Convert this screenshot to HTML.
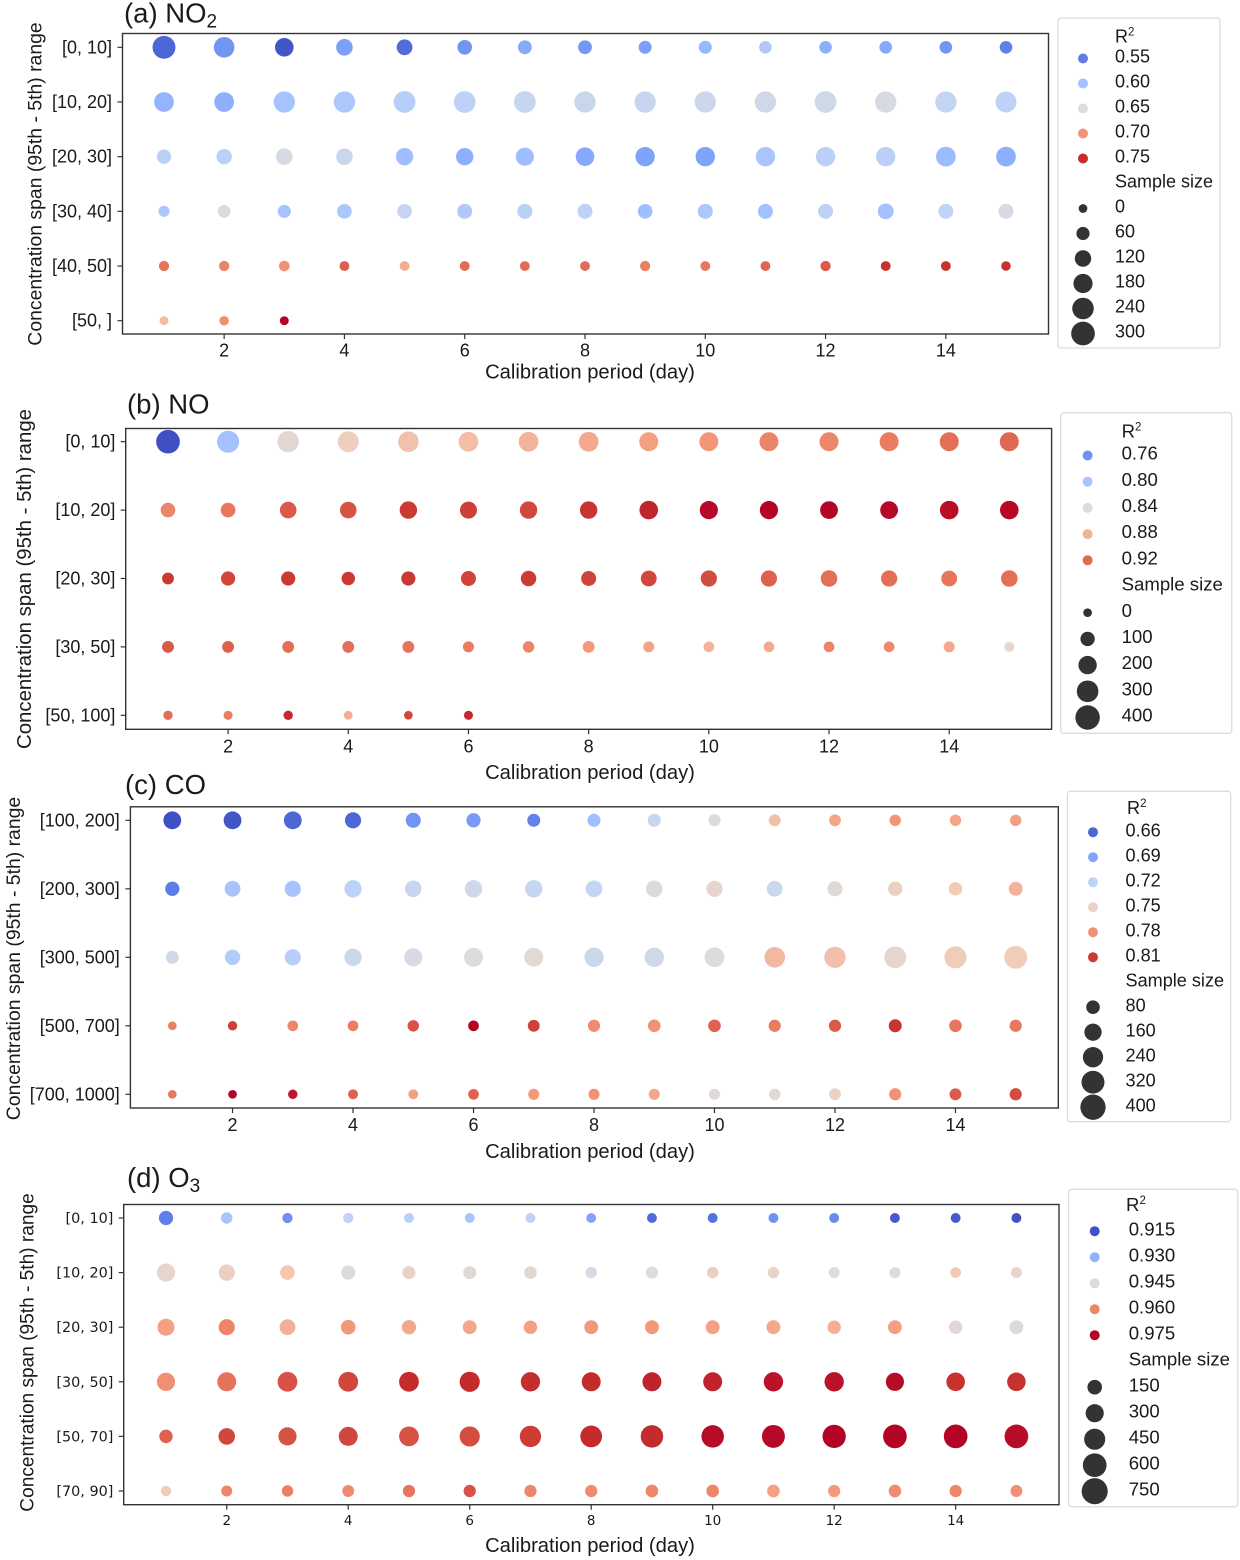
<!DOCTYPE html>
<html lang="en">
<head>
<meta charset="utf-8">
<title>Calibration period and concentration span bubble charts</title>
<style>
html,body{margin:0;padding:0;background:#fff;}
svg{display:block;font-family:"Liberation Sans",Arial,sans-serif;fill:#1a1a1a;}
.frame{fill:none;stroke:#333;stroke-width:1.4;}
.legend-frame{fill:#fff;stroke:#dcdcdc;stroke-width:1.3;}
.title{font-size:27.5px;}
.sub{font-size:19px;}
.axis-title{font-size:20.2px;text-anchor:middle;}
.ytitle{font-size:19.4px;text-anchor:middle;}
.legend-text{font-size:18px;}
#panel-b .legend-text,#panel-d .legend-text{font-size:18.6px;}
#panel-c .legend-text{font-size:18.1px;}
.sup{font-size:11.5px;}
.xtick{font-size:18px;text-anchor:middle;}
.ytick{font-size:18px;text-anchor:end;}
.dv{font-family:"DejaVu Sans",sans-serif;}
</style>
</head>
<body>
<svg id="chart" xmlns="http://www.w3.org/2000/svg" width="1240" height="1560" viewBox="0 0 1240 1560">
  <rect x="0" y="0" width="1240" height="1560" fill="#ffffff"/>

  <g id="panel-a">
    <text class="title" x="124" y="22.5">(a) NO<tspan class="sub" dy="5">2</tspan></text>
    <rect class="legend-frame" x="1058" y="18" width="162" height="330" rx="3"/>
    <text class="legend-text" x="1115" y="42.5">R<tspan class="sup" dy="-7">2</tspan></text>
    <text class="legend-text" x="1115" y="187.6">Sample size</text>
    <text class="axis-title" x="590" y="378.5">Calibration period (day)</text>
    <text class="ytitle" transform="translate(41.5 184) rotate(-90)">Concentration span (95th - 5th) range</text>
  </g>

  <g id="panel-b">
    <text class="title" x="127" y="413.5">(b) NO</text>
    <rect class="legend-frame" x="1060.7" y="412.7" width="171" height="320.6" rx="3"/>
    <text class="legend-text" x="1121.6" y="437.5">R<tspan class="sup" dy="-7">2</tspan></text>
    <text class="legend-text" x="1121.6" y="590.4">Sample size</text>
    <text class="axis-title" x="590" y="779">Calibration period (day)</text>
    <text class="ytitle" style="font-size:20.4px" transform="translate(30.8 579) rotate(-90)">Concentration span (95th - 5th) range</text>
  </g>

  <g id="panel-c">
    <text class="title" x="125" y="794">(c) CO</text>
    <rect class="legend-frame" x="1067.4" y="791.3" width="163.3" height="330.4" rx="3"/>
    <text class="legend-text" x="1127" y="814">R<tspan class="sup" dy="-7">2</tspan></text>
    <text class="legend-text" x="1125.5" y="986.4">Sample size</text>
    <text class="axis-title" x="590" y="1158">Calibration period (day)</text>
    <text class="ytitle" transform="translate(19.8 958.5) rotate(-90)">Concentration span (95th - 5th) range</text>
  </g>

  <g id="panel-d">
    <text class="title" x="127" y="1187">(d) O<tspan class="sub" dy="5">3</tspan></text>
    <rect class="legend-frame" x="1068.6" y="1189.3" width="169.2" height="317.4" rx="3"/>
    <text class="legend-text" x="1126" y="1211">R<tspan class="sup" dy="-7">2</tspan></text>
    <text class="legend-text" x="1128.7" y="1365.4">Sample size</text>
    <text class="axis-title" x="590" y="1552">Calibration period (day)</text>
    <text class="ytitle" style="font-size:19.1px" transform="translate(33.6 1352.5) rotate(-90)">Concentration span (95th - 5th) range</text>
  </g>
</svg>

<script>
// ---------- shared data ----------
const dayTicks = [2, 4, 6, 8, 10, 12, 14];

// ---------- (a) NO2 ----------
const no2Spans = ['[0, 10]', '[10, 20]', '[20, 30]', '[30, 40]', '[40, 50]', '[50, ]'];
const no2R2 = [
  [.5375,.565,.5275,.5725,.54,.565,.58,.5675,.5725,.5925,.61,.585,.58,.565,.5525],
  [.59,.585,.6025,.6075,.615,.62,.6275,.63,.6275,.6325,.635,.635,.64,.625,.62],
  [.6175,.6175,.64,.63,.5975,.585,.5975,.58,.575,.575,.605,.6175,.6175,.595,.585],
  [.6075,.6425,.6025,.6075,.625,.61,.6175,.62,.5975,.6075,.6,.62,.6,.6225,.64],
  [.7225,.7125,.7025,.73,.6875,.725,.725,.725,.715,.72,.7275,.7325,.7475,.7475,.7475],
  [.68,.705,.775]
];
const no2Samples = [
  [278,214,166,123,107,85,71,71,58,58,52,52,52,52,52],
  [194,194,234,234,245,245,245,234,234,234,234,245,234,234,224],
  [78,100,123,123,140,140,157,166,185,185,185,185,185,194,194],
  [29,52,58,85,85,92,92,92,85,92,92,92,107,92,92],
  [18,18,23,13,13,13,13,13,18,13,13,18,13,13,9],
  [2,9,2]
];
const no2LegendR2 = [0.55, 0.60, 0.65, 0.70, 0.75];
const no2LegendR2Labels = ['0.55', '0.60', '0.65', '0.70', '0.75'];
const no2LegendSamples = [0, 60, 120, 180, 240, 300];

// ---------- (b) NO ----------
const noSpans = ['[0, 10]', '[10, 20]', '[20, 30]', '[30, 50]', '[50, 100]'];
const noR2 = [
  [.7225,.798,.85,.862,.872,.874,.879,.884,.889,.894,.906,.904,.911,.918,.921],
  [.906,.914,.926,.928,.938,.936,.933,.94,.948,.963,.965,.965,.963,.96,.963],
  [.938,.933,.938,.938,.938,.934,.937,.934,.933,.931,.923,.918,.918,.916,.918],
  [.926,.923,.918,.918,.916,.911,.904,.8915,.887,.879,.884,.906,.9025,.884,.852],
  [.918,.909,.945,.882,.933,.945]
];
const noSamples = [
  [372,317,290,278,265,241,241,241,218,218,218,218,218,218,218],
  [106,106,153,153,174,163,174,174,206,195,195,184,184,206,206],
  [50,97,97,81,97,115,124,115,134,143,143,153,143,134,153],
  [50,50,50,50,50,36,43,50,36,30,30,30,30,36,17],
  [11,6,11,1,1,6]
];
const noLegendR2 = [0.76, 0.80, 0.84, 0.88, 0.92];
const noLegendR2Labels = ['0.76', '0.80', '0.84', '0.88', '0.92'];
const noLegendSamples = [0, 100, 200, 300, 400];

// ---------- (c) CO ----------
const coSpans = ['[100, 200]', '[200, 300]', '[300, 500]', '[500, 700]', '[700, 1000]'];
const coR2 = [
  [.652,.654,.661,.661,.681,.684,.673,.704,.726,.74,.762,.772,.778,.772,.774],
  [.67,.708,.708,.72,.726,.731,.726,.724,.738,.747,.729,.742,.753,.758,.767],
  [.733,.715,.717,.729,.736,.74,.744,.729,.731,.74,.765,.762,.747,.756,.756],
  [.789,.808,.785,.79,.803,.83,.808,.783,.78,.799,.79,.801,.812,.794,.792],
  [.792,.83,.823,.799,.774,.799,.776,.78,.771,.742,.744,.751,.78,.801,.805]
];
const coSamples = [
  [173,173,173,135,109,93,70,70,70,56,50,50,43,43,43],
  [93,126,135,163,144,163,163,144,144,135,126,109,93,78,85],
  [70,118,135,163,183,203,203,214,214,225,247,270,282,295,320],
  [4,14,31,31,43,31,50,56,63,63,56,56,70,63,56],
  [4,4,14,20,20,31,37,37,37,37,43,50,56,50,56]
];
const coLegendR2 = [0.66, 0.69, 0.72, 0.75, 0.78, 0.81];
const coLegendR2Labels = ['0.66', '0.69', '0.72', '0.75', '0.78', '0.81'];
const coLegendSamples = [80, 160, 240, 320, 400];

// ---------- (d) O3 ----------
const o3Spans = ['[0, 10]', '[10, 20]', '[20, 30]', '[30, 50]', '[50, 70]', '[70, 90]'];
const o3R2 = [
  [.921,.934,.924,.938,.937,.934,.938,.927,.918,.919,.924,.923,.916,.916,.915],
  [.947,.949,.951,.9445,.948,.946,.946,.943,.9445,.949,.9475,.9445,.9445,.951,.9475],
  [.956,.960,.954,.957,.955,.955,.956,.957,.957,.956,.955,.954,.956,.946,.944],
  [.9585,.963,.966,.967,.970,.970,.9695,.970,.971,.971,.973,.973,.974,.969,.969],
  [.9646,.967,.966,.967,.966,.9665,.968,.970,.970,.974,.9744,.975,.975,.975,.974],
  [.9506,.9598,.961,.959,.9628,.966,.9598,.959,.9598,.9598,.956,.9567,.959,.9598,.9585]
];
const o3Samples = [
  [138,47,14,14,4,4,4,2,4,4,4,4,4,4,4],
  [302,215,152,138,96,96,83,47,71,47,47,35,35,24,35],
  [249,215,199,152,138,124,110,124,124,124,124,110,124,110,124],
  [302,340,379,379,379,400,359,340,340,340,359,359,302,320,320],
  [110,231,302,340,379,400,462,484,529,529,552,575,599,599,599],
  [14,35,47,59,71,71,71,71,83,83,83,71,83,71,59]
];
const o3LegendR2 = [0.915, 0.930, 0.945, 0.960, 0.975];
const o3LegendR2Labels = ['0.915', '0.930', '0.945', '0.960', '0.975'];
const o3LegendSamples = [150, 300, 450, 600, 750];

// ---------- colormap (coolwarm) ----------
const COOLWARM = ['#3b4cc0','#5a78e4','#7b9ff9','#9ebeff','#c0d4f5','#dddcdc','#f2cbb7','#f49a7b','#e7745b','#c7332f','#b40426'];
function hexToRgb(h) {
  return [parseInt(h.slice(1, 3), 16), parseInt(h.slice(3, 5), 16), parseInt(h.slice(5, 7), 16)];
}
function coolwarm(t) {
  const c = Math.max(0, Math.min(1, t)) * (COOLWARM.length - 1);
  const i = Math.min(Math.floor(c), COOLWARM.length - 2);
  const f = c - i;
  const a = hexToRgb(COOLWARM[i]);
  const b = hexToRgb(COOLWARM[i + 1]);
  return 'rgb(' + a.map(function (v, k) { return Math.round(v + (b[k] - v) * f); }).join(',') + ')';
}

// ---------- panels: layout + scale configuration ----------
const panels = [
  { id: 'panel-a', key: 'no2', spans: no2Spans, r2: no2R2, samples: no2Samples,
    legendR2: no2LegendR2, legendR2Labels: no2LegendR2Labels, legendSamples: no2LegendSamples,
    box: [122.5, 33.5, 1048.5, 334], day1: 164, day15: 1006, rowFirst: 47.3, rowLast: 320.7,
    yTickEnd: 112, xTickY: 356.3, cMin: .522, cMax: .772, sizeBase: 76, sizeSlope: 1.62,
    legendX: 1083, legendTextX: 1115, legendY: 57, legendStep: 25, legendDot: 10 },
  { id: 'panel-b', key: 'no', spans: noSpans, r2: noR2, samples: noSamples,
    legendR2: noLegendR2, legendR2Labels: noLegendR2Labels, legendSamples: noLegendSamples,
    box: [125.7, 428.5, 1051.6, 729.3], day1: 168, day15: 1009.3, rowFirst: 441.7, rowLast: 715.3,
    yTickEnd: 115.4, xTickY: 752.3, cMin: .72, cMax: .965, sizeBase: 75, sizeSlope: 1.31,
    legendX: 1087.6, legendTextX: 1121.6, legendY: 454, legendStep: 26.2, legendDot: 10 },
  { id: 'panel-c', key: 'co', spans: coSpans, r2: coR2, samples: coSamples,
    legendR2: coLegendR2, legendR2Labels: coLegendR2Labels, legendSamples: coLegendSamples,
    box: [130.4, 806.8, 1058.3, 1108], day1: 172.3, day15: 1015.7, rowFirst: 820.3, rowLast: 1094.3,
    yTickEnd: 119.8, xTickY: 1130.8, cMin: .65, cMax: .83, sizeBase: 70, sizeSlope: 1.425,
    legendX: 1093, legendTextX: 1125.5, legendY: 830.7, legendStep: 25, legendDot: 10 },
  { id: 'panel-d', key: 'o3', spans: o3Spans, r2: o3R2, samples: o3Samples,
    legendR2: o3LegendR2, legendR2Labels: o3LegendR2Labels, legendSamples: o3LegendSamples,
    box: [123.7, 1204.5, 1059, 1504.7], day1: 166, day15: 1016.4, rowFirst: 1218, rowLast: 1491,
    yTickEnd: 113.4, xTickY: 1525, cMin: .914, cMax: .975, sizeBase: 95, sizeSlope: .78,
    legendX: 1094.7, legendTextX: 1128.7, legendY: 1229.7, legendStep: 26, legendDot: 10, dejavu: true }
];

const SVG_NS = 'http://www.w3.org/2000/svg';
function make(tag, attrs, parent, txt) {
  const el = document.createElementNS(SVG_NS, tag);
  Object.keys(attrs).forEach(function (k) { el.setAttribute(k, attrs[k]); });
  if (txt !== undefined) el.textContent = txt;
  parent.appendChild(el);
  return el;
}

panels.forEach(function (p) {
  const g = document.getElementById(p.id);
  const left = p.box[0], top = p.box[1], right = p.box[2], bottom = p.box[3];
  const xScale = function (day) { return p.day1 + (day - 1) * (p.day15 - p.day1) / 14; };
  const yScale = function (row) { return p.rowFirst + row * (p.rowLast - p.rowFirst) / (p.spans.length - 1); };
  const colorScale = function (v) { return coolwarm((v - p.cMin) / (p.cMax - p.cMin)); };
  const sizeScale = function (s) { return Math.sqrt(p.sizeBase + p.sizeSlope * s) / 2; };

  // marks
  p.r2.forEach(function (rowValues, row) {
    rowValues.forEach(function (v, i) {
      const dot = make('circle', { cx: xScale(i + 1), cy: yScale(row), r: sizeScale(p.samples[row][i]), fill: colorScale(v) }, g);
      
      
    });
  });

  // plot frame
  const frame = make('rect', { class: 'frame', x: left, y: top, width: right - left, height: bottom - top }, g);
  
  

  // x axis ticks
  dayTicks.forEach(function (d) {
    const tick = make('line', { x1: xScale(d), x2: xScale(d), y1: bottom, y2: bottom + 5, stroke: '#333', 'stroke-width': 1.2 }, g);
    
    
    const label = make('text', { class: 'xtick' + (p.dejavu ? ' dv' : ''), x: xScale(d), y: p.xTickY }, g, String(d));
    if (p.dejavu) label.style.fontSize = '13.5px';
    
    
  });

  // y axis ticks
  p.spans.forEach(function (name, row) {
    const tick = make('line', { x1: left - 5, x2: left, y1: yScale(row), y2: yScale(row), stroke: '#333', 'stroke-width': 1.2 }, g);
    
    
    const label = make('text', { class: 'ytick' + (p.dejavu ? ' dv' : ''), x: p.yTickEnd, y: yScale(row) + (p.dejavu ? 5 : 6) }, g, name);
    if (p.dejavu) label.style.fontSize = '14.4px';
    
    
  });

  // legend: R2 entries
  p.legendR2.forEach(function (v, i) {
    const y = p.legendY + i * p.legendStep;
    const swatch = make('circle', { cx: p.legendX, cy: y + 1.5, r: p.legendDot / 2, fill: colorScale(v) }, g);
    
    
    const label = make('text', { class: 'legend-text', x: p.legendTextX, y: y + 5.6 }, g, p.legendR2Labels[i]);
    
    
  });

  // legend: sample size entries (one row reserved for the "Sample size" heading)
  p.legendSamples.forEach(function (s, i) {
    const y = p.legendY + (p.legendR2.length + 1 + i) * p.legendStep;
    const marker = make('circle', { cx: p.legendX, cy: y + 1.5, r: sizeScale(s), fill: '#333333' }, g);
    
    
    const label = make('text', { class: 'legend-text', x: p.legendTextX, y: y + 5.6 }, g, String(s));
    
    
  });
});
</script>
</body>
</html>
